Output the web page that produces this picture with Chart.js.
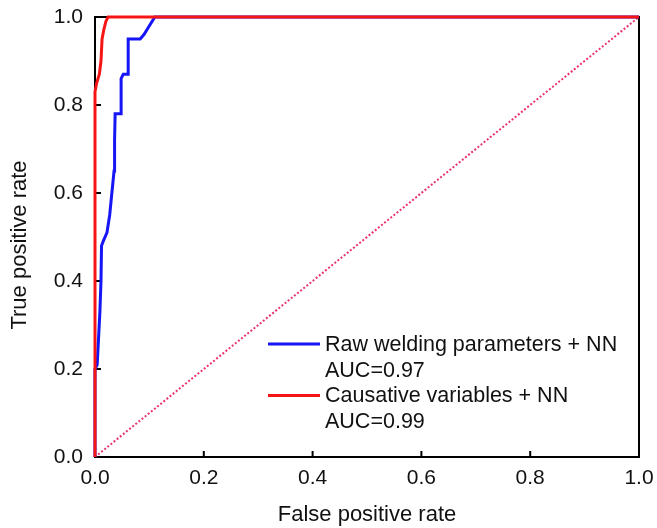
<!DOCTYPE html>
<html lang="en">
<head>
    <meta charset="UTF-8">
    <title>ROC curves</title>
    <style>
        html, body { margin: 0; padding: 0; background: #fff; }
        #wrap { width: 657px; height: 528px; }
    </style>
    <script src="https://cdn.jsdelivr.net/npm/chart.js"></script>
</head>
<body>
<div id="wrap"><canvas id="chart"></canvas></div>
<script>
    // ROC points: [false positive rate, true positive rate]
    const rawNN = [
        [0, 0], [0, 0.2], [0.004, 0.21], [0.009, 0.33], [0.011, 0.40], [0.012, 0.48],
        [0.015, 0.49], [0.022, 0.51], [0.027, 0.55], [0.031, 0.60], [0.035, 0.65],
        [0.036, 0.72], [0.037, 0.78], [0.048, 0.78], [0.048, 0.86], [0.052, 0.87],
        [0.061, 0.87], [0.061, 0.95], [0.083, 0.95], [0.09, 0.96], [0.1, 0.98],
        [0.11, 1], [1, 1]
    ];
    const causalNN = [
        [0, 0], [0, 0.83], [0.003, 0.85], [0.008, 0.87], [0.011, 0.9], [0.013, 0.95],
        [0.016, 0.97], [0.02, 0.99], [0.024, 1], [1, 1]
    ];
    const chance = [[0, 0], [1, 1]];
    const legendText = [
        ['Raw welding parameters + NN', 'AUC=0.97'],
        ['Causative variables + NN', 'AUC=0.99']
    ];
    const tickValues = [0, 0.2, 0.4, 0.6, 0.8, 1.0];

    const toXY = arr => arr.map(p => ({ x: p[0], y: p[1] }));
    const FONT = 'Liberation Sans, Arial, sans-serif';

    // frame and inward ticks go under the curves, like the original
    const frame = {
        id: 'frame',
        beforeDatasetsDraw(chart) {
            const { ctx, chartArea: a, scales } = chart;
            ctx.save();
            ctx.strokeStyle = '#000';
            ctx.lineWidth = 2;
            ctx.strokeRect(a.left, a.top, a.right - a.left, a.bottom - a.top);
            ctx.beginPath();
            tickValues.forEach(v => {
                const x = scales.x.getPixelForValue(v);
                ctx.moveTo(x, a.bottom); ctx.lineTo(x, a.bottom - 6);
                const y = scales.y.getPixelForValue(v);
                ctx.moveTo(a.left, y); ctx.lineTo(a.left + 6, y);
            });
            ctx.stroke();
            ctx.restore();
        },
        afterDatasetsDraw(chart) {
            const { ctx } = chart;
            ctx.save();
            // y axis title, a little below centre like the original
            ctx.fillStyle = '#111';
            ctx.font = '22px ' + FONT;
            ctx.textAlign = 'center';
            ctx.textBaseline = 'alphabetic';
            ctx.translate(26, 245);
            ctx.rotate(-Math.PI / 2);
            ctx.fillText('True positive rate', 0, 0);
            ctx.setTransform(1, 0, 0, 1, 0, 0);

            // legend
            const colors = ['#1515f5', '#f51515'];
            ctx.font = '21.5px ' + FONT;
            ctx.textAlign = 'left';
            ctx.textBaseline = 'middle';
            let y = 345;
            legendText.forEach((lines, i) => {
                ctx.strokeStyle = colors[i];
                ctx.lineWidth = 3;
                ctx.beginPath();
                ctx.moveTo(268, y - 1); ctx.lineTo(320, y - 1);
                ctx.stroke();
                lines.forEach(t => {
                    ctx.fillText(t, 325, y);
                    y += 25.7;
                });
            });
            ctx.restore();
        }
    };

    // first dataset is drawn on top: red, then blue, then the chance line
    new Chart(document.getElementById('chart'), {
        type: 'scatter',
        data: {
            datasets: [
                {
                    data: toXY(causalNN),
                    showLine: true,
                    borderColor: '#f51515',
                    borderWidth: 3,
                    pointRadius: 0,
                    clip: 4
                },
                {
                    data: toXY(rawNN),
                    showLine: true,
                    borderColor: '#1515f5',
                    borderWidth: 3,
                    pointRadius: 0,
                    clip: 4
                },
                {
                    data: toXY(chance),
                    showLine: true,
                    borderColor: '#e8336b',
                    borderWidth: 2,
                    borderDash: [2, 2],
                    pointRadius: 0
                }
            ]
        },
        options: {
            responsive: true,
            maintainAspectRatio: false,
            animation: false,
            layout: { padding: { left: 0, top: 17, right: 18, bottom: 0 } },
            plugins: { legend: { display: false }, tooltip: { enabled: false } },
            scales: {
                x: {
                    type: 'linear', min: 0, max: 1,
                    grid: { display: false, drawTicks: false },
                    border: { display: false },
                    afterBuildTicks: s => { s.ticks = tickValues.map(v => ({ value: v })); },
                    ticks: {
                        padding: 9, color: '#111',
                        font: { family: FONT, size: 21 },
                        callback: v => v.toFixed(1)
                    },
                    title: {
                        display: true, text: 'False positive rate', color: '#111',
                        font: { family: FONT, size: 22 }, padding: { top: 0, bottom: 0 }
                    },
                    afterFit: s => { s.height = 71; s.paddingLeft = 0; s.paddingRight = 0; }
                },
                y: {
                    type: 'linear', min: 0, max: 1,
                    grid: { display: false, drawTicks: false },
                    border: { display: false },
                    afterBuildTicks: s => { s.ticks = tickValues.map(v => ({ value: v })); },
                    ticks: {
                        padding: 12, color: '#111',
                        font: { family: FONT, size: 21 },
                        callback: v => v.toFixed(1)
                    },
                    title: { display: false },
                    afterFit: s => { s.width = 95; s.paddingTop = 0; s.paddingBottom = 0; }
                }
            }
        },
        plugins: [frame]
    });
</script>
</body>
</html>
